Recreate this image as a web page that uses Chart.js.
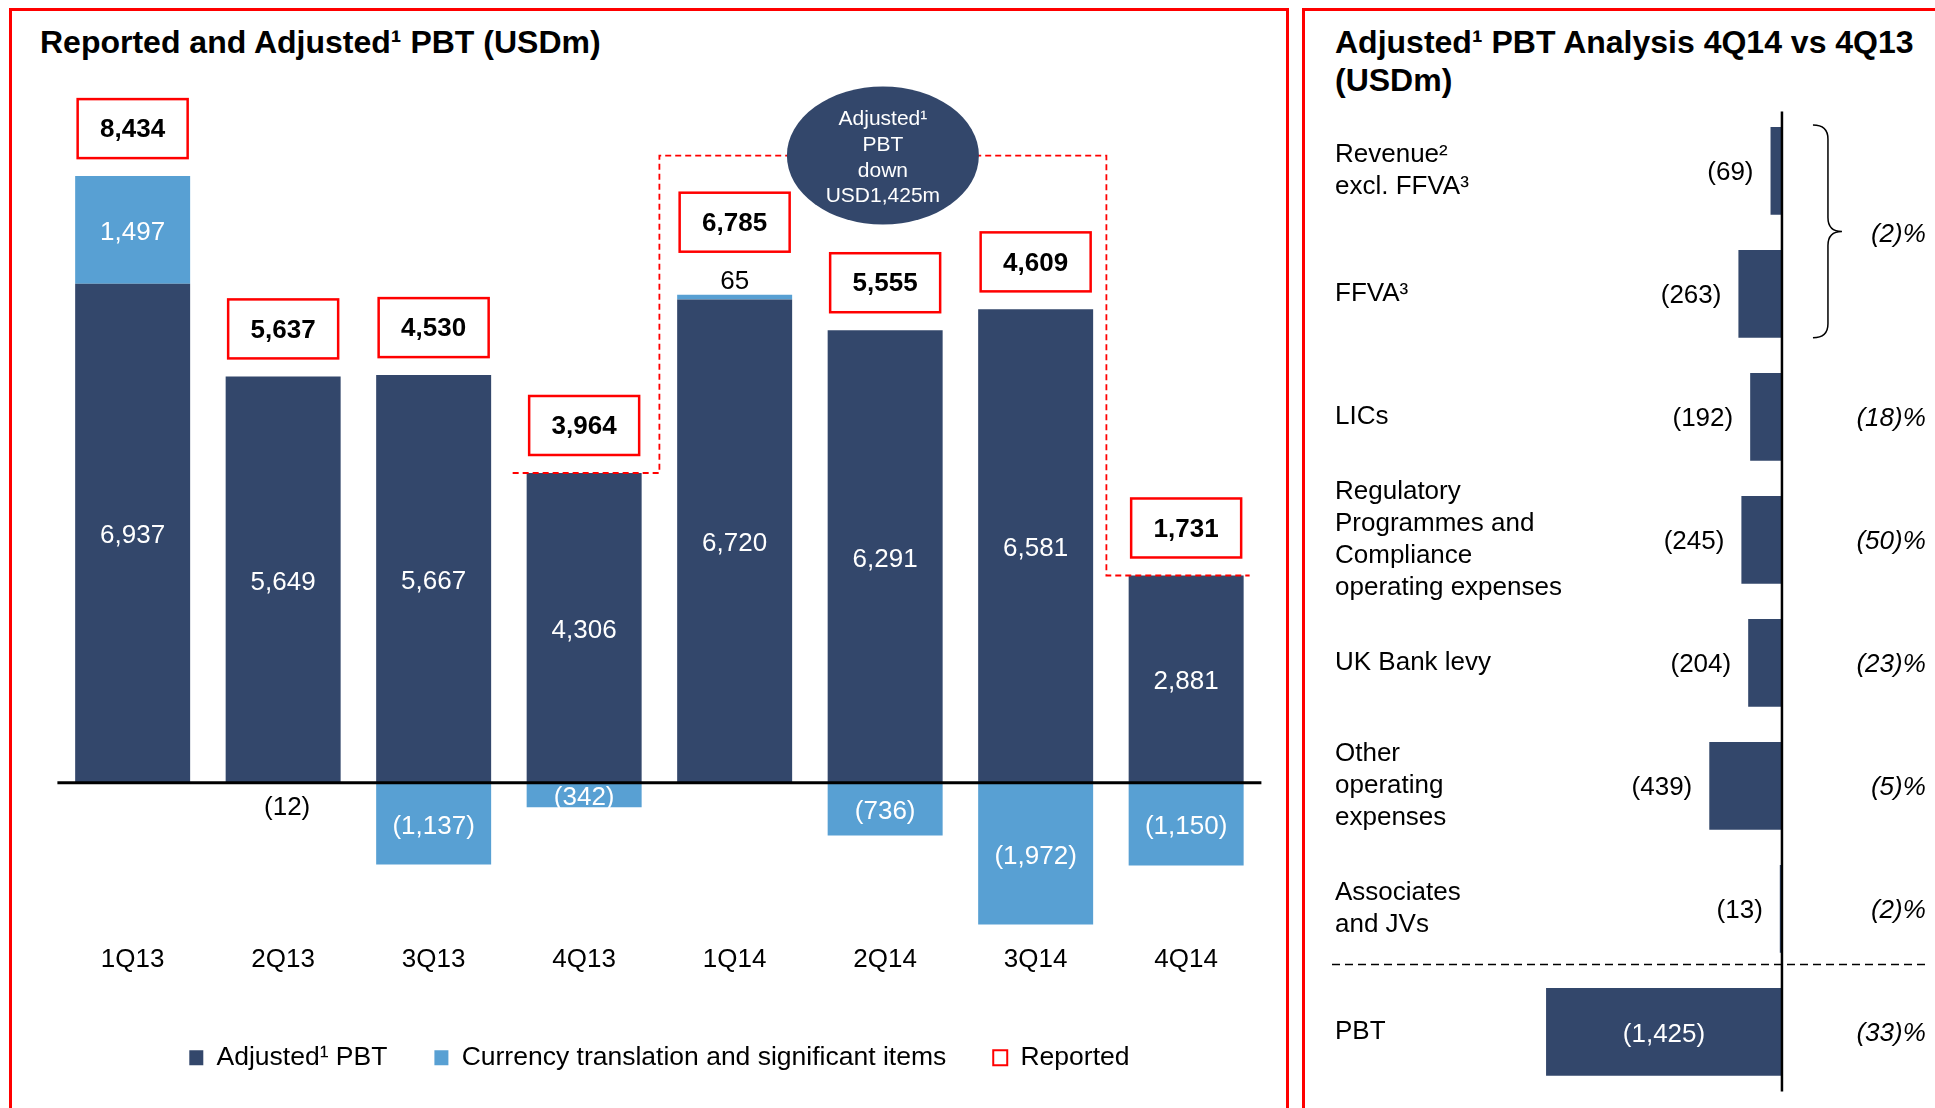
<!DOCTYPE html>
<html>
<head>
<meta charset="utf-8">
<title>Reported and Adjusted PBT</title>
<script src="https://cdn.jsdelivr.net/npm/chart.js@4.4.1/dist/chart.umd.min.js"></script>
<style>
  body {
    margin: 0;
    width: 1935px;
    height: 1108px;
    overflow: hidden;
    position: relative;
    background: #fff;
    font-family: "Liberation Sans", Arial, sans-serif;
  }
  .panel { position: absolute; border: 3px solid #ff0000; box-sizing: border-box; }
  #left-panel { left: 9px; top: 8px; width: 1280px; height: 1200px; }
  #right-panel { left: 1302px; top: 8px; width: 700px; height: 1200px; }
  .title { position: absolute; font-weight: bold; font-size: 32px; color: #000; white-space: nowrap; }
  #left-title { left: 40px; top: 26px; line-height: 32px; }
  #right-title { left: 1335px; top: 23px; line-height: 38px; }
  canvas { position: absolute; top: 0; }
  #pbt-chart { left: 0; }
  #analysis-chart { left: 1300px; }
</style>
</head>
<body>
<div class="panel" id="left-panel"></div>
<div class="panel" id="right-panel"></div>
<div class="title" id="left-title">Reported and Adjusted¹ PBT (USDm)</div>
<div class="title" id="right-title">Adjusted¹ PBT Analysis 4Q14 vs 4Q13<br>(USDm)</div>
<canvas id="pbt-chart" width="1300" height="1108"></canvas>
<canvas id="analysis-chart" width="635" height="1108"></canvas>
<script>
// left chart data
const quarters = ['1Q13', '2Q13', '3Q13', '4Q13', '1Q14', '2Q14', '3Q14', '4Q14'];
const adjustedPbt = [6937, 5649, 5667, 4306, 6720, 6291, 6581, 2881];
const currencyItems = [1497, -12, -1137, -342, 65, -736, -1972, -1150];
const reportedPbt = [8434, 5637, 4530, 3964, 6785, 5555, 4609, 1731];
const calloutLines = ['Adjusted¹', 'PBT', 'down', 'USD1,425m'];

// right chart data
const analysisCategories = [
  ['Revenue²', 'excl. FFVA³'],
  ['FFVA³'],
  ['LICs'],
  ['Regulatory', 'Programmes and', 'Compliance', 'operating expenses'],
  ['UK Bank levy'],
  ['Other', 'operating', 'expenses'],
  ['Associates', 'and JVs'],
  ['PBT']
];
const analysisValues = [-69, -263, -192, -245, -204, -439, -13, -1425];
const changePct = [null, null, -18, -50, -23, -5, -2, -33];
const revenuePct = -2; // shared by Revenue and FFVA (brace)

const DARK = '#33476B';
const LIGHT = '#58A0D3';
const RED = '#FF0000';
const FONT = '"Liberation Sans", Arial, sans-serif';

Chart.defaults.font.family = FONT;
Chart.defaults.color = '#000';

function fmt(v) {
  const s = Math.abs(v).toLocaleString('en-US');
  return v < 0 ? '(' + s + ')' : s;
}

function positiveTop(i) {
  return Math.max(adjustedPbt[i], 0) + Math.max(currencyItems[i], 0);
}

// numbers inside / next to the stacked segments
const segmentLabels = {
  id: 'segmentLabels',
  afterDatasetsDraw(chart) {
    const ctx = chart.ctx;
    ctx.save();
    ctx.font = '26px ' + FONT;
    ctx.textAlign = 'center';
    ctx.textBaseline = 'middle';
    chart.data.datasets.forEach((ds, di) => {
      chart.getDatasetMeta(di).data.forEach((bar, i) => {
        const v = ds.data[i];
        const { x, y, base } = bar.getProps(['x', 'y', 'base'], true);
        const h = Math.abs(base - y);
        if (h >= 18) {
          ctx.fillStyle = '#fff';
          ctx.fillText(fmt(v), x, (y + base) / 2 + 3);
        } else if (v >= 0) {
          ctx.fillStyle = '#000';
          ctx.fillText(fmt(v), x, Math.min(y, base) - 13);
        } else {
          ctx.fillStyle = '#000';
          ctx.fillText(fmt(v), x + 4, Math.max(y, base) + 24);
        }
      });
    });
    ctx.restore();
  }
};

// red boxes with the reported figure
const reportedBoxes = {
  id: 'reportedBoxes',
  afterDatasetsDraw(chart) {
    const { ctx, scales: { x, y } } = chart;
    const zero = y.getPixelForValue(0);
    ctx.save();
    ctx.font = 'bold 26px ' + FONT;
    ctx.textAlign = 'center';
    ctx.textBaseline = 'middle';
    quarters.forEach((q, i) => {
      const yTop = y.getPixelForValue(positiveTop(i));
      const smallAbove = currencyItems[i] > 0 && zero - y.getPixelForValue(currencyItems[i]) < 18;
      const bottom = yTop - (smallAbove ? 43 : 18);
      const cx = x.getPixelForValue(i);
      ctx.fillStyle = '#fff';
      ctx.fillRect(cx - 55, bottom - 59, 110, 59);
      ctx.strokeStyle = RED;
      ctx.lineWidth = 2.5;
      ctx.strokeRect(cx - 55, bottom - 59, 110, 59);
      ctx.fillStyle = '#000';
      ctx.fillText(fmt(reportedPbt[i]), cx, bottom - 28);
    });
    ctx.restore();
  }
};

// dashed red bracket 4Q13 -> 4Q14 with the callout ellipse
const bracketLevel = 8720;
const bracketCallout = {
  id: 'bracketCallout',
  afterDatasetsDraw(chart) {
    const { ctx, scales: { x, y } } = chart;
    const bars = chart.getDatasetMeta(0).data;
    const from = 3, to = 7;
    const yFrom = y.getPixelForValue(positiveTop(from));
    const yTo = y.getPixelForValue(positiveTop(to));
    const yTop = y.getPixelForValue(bracketLevel);
    const xL = x.getPixelForValue(from + 0.5);
    const xR = x.getPixelForValue(to - 0.53);
    const start = bars[from].x - bars[from].width / 2 - 14;
    const end = bars[to].x + bars[to].width / 2 + 6;
    ctx.save();
    ctx.strokeStyle = RED;
    ctx.lineWidth = 1.8;
    ctx.setLineDash([6, 4]);
    ctx.beginPath();
    ctx.moveTo(start, yFrom);
    ctx.lineTo(xL, yFrom);
    ctx.lineTo(xL, yTop);
    ctx.lineTo(xR, yTop);
    ctx.lineTo(xR, yTo);
    ctx.lineTo(end, yTo);
    ctx.stroke();
    ctx.setLineDash([]);

    const cx = (xL + xR) / 2;
    ctx.fillStyle = DARK;
    ctx.beginPath();
    ctx.ellipse(cx, yTop, 96, 69, 0, 0, Math.PI * 2);
    ctx.fill();
    ctx.fillStyle = '#fff';
    ctx.font = '21px ' + FONT;
    ctx.textAlign = 'center';
    ctx.textBaseline = 'middle';
    calloutLines.forEach((t, k) => ctx.fillText(t, cx, yTop + (k - 1.5) * 25.7 + 2.5));
    ctx.restore();
  }
};

const zeroLine = {
  id: 'zeroLine',
  afterDatasetsDraw(chart) {
    const { ctx, chartArea, scales: { y } } = chart;
    const y0 = y.getPixelForValue(0);
    ctx.save();
    ctx.strokeStyle = '#000';
    ctx.lineWidth = 3;
    ctx.beginPath();
    ctx.moveTo(chartArea.left, y0);
    ctx.lineTo(chartArea.right, y0);
    ctx.stroke();
    ctx.restore();
  }
};

const legendItems = [
  { text: 'Adjusted¹ PBT', fillStyle: DARK, strokeStyle: DARK, lineWidth: 0 },
  { text: 'Currency translation and significant items', fillStyle: LIGHT, strokeStyle: LIGHT, lineWidth: 0 },
  { text: 'Reported', fillStyle: '#fff', strokeStyle: RED, lineWidth: 2 }
];

new Chart(document.getElementById('pbt-chart'), {
  type: 'bar',
  data: {
    labels: quarters,
    datasets: [
      { label: 'Adjusted¹ PBT', data: adjustedPbt, backgroundColor: DARK, stack: 'pbt' },
      { label: 'Currency translation and significant items', data: currencyItems, backgroundColor: LIGHT, stack: 'pbt' }
    ]
  },
  options: {
    responsive: false,
    animation: false,
    events: [],
    layout: { padding: { left: 57.4, right: 38.6, top: 135.4, bottom: 27 } },
    datasets: { bar: { barPercentage: 0.764, categoryPercentage: 1, borderWidth: 0 } },
    scales: {
      x: {
        stacked: true,
        grid: { display: false, drawTicks: false },
        border: { display: false },
        ticks: { font: { size: 26 }, color: '#000', padding: 3.5 },
        afterFit: scale => { scale.height = 56.6; }
      },
      y: { stacked: true, display: false, min: -2200, max: 9000 }
    },
    plugins: {
      tooltip: { enabled: false },
      legend: {
        position: 'bottom',
        onClick: null,
        labels: {
          color: '#000',
          font: { size: 26.5 },
          boxWidth: 14,
          boxHeight: 15,
          padding: 47,
          generateLabels: () => legendItems.map(it => Object.assign({ hidden: false }, it))
        }
      }
    }
  },
  plugins: [bracketCallout, segmentLabels, reportedBoxes, zeroLine]
});

// right chart decorations: value labels, % change, brace, separator, axis
const analysisDecor = {
  id: 'analysisDecor',
  afterDatasetsDraw(chart) {
    const { ctx, chartArea, scales: { x } } = chart;
    const bars = chart.getDatasetMeta(0).data;
    const x0 = x.getPixelForValue(0);
    ctx.save();
    ctx.font = '26px ' + FONT;
    ctx.textBaseline = 'middle';
    bars.forEach((bar, i) => {
      const len = Math.abs(bar.x - bar.base);
      if (len > 150) {
        ctx.fillStyle = '#fff';
        ctx.textAlign = 'center';
        ctx.fillText(fmt(analysisValues[i]), (bar.x + bar.base) / 2, bar.y + 3);
      } else {
        ctx.fillStyle = '#000';
        ctx.textAlign = 'right';
        ctx.fillText(fmt(analysisValues[i]), Math.min(bar.x, bar.base) - 17, bar.y + 2);
      }
    });

    const pct = v => '(' + Math.abs(v) + ')%';
    ctx.font = 'italic 26px ' + FONT;
    ctx.fillStyle = '#000';
    ctx.textAlign = 'right';
    bars.forEach((bar, i) => {
      if (changePct[i] !== null) ctx.fillText(pct(changePct[i]), chartArea.right - 1, bar.y + 2);
    });

    // brace around revenue + FFVA
    const top = bars[0].y - bars[0].height / 2 - 2;
    const bottom = bars[1].y + bars[1].height / 2;
    const mid = (top + bottom) / 2;
    const bx = x0 + 31, mx = x0 + 46, tx = x0 + 60, r = 14;
    ctx.strokeStyle = '#000';
    ctx.lineWidth = 1.5;
    ctx.beginPath();
    ctx.moveTo(bx, top);
    ctx.quadraticCurveTo(mx, top, mx, top + r);
    ctx.lineTo(mx, mid - r);
    ctx.quadraticCurveTo(mx, mid, tx, mid);
    ctx.quadraticCurveTo(mx, mid, mx, mid + r);
    ctx.lineTo(mx, bottom - r);
    ctx.quadraticCurveTo(mx, bottom, bx, bottom);
    ctx.stroke();
    ctx.fillText(pct(revenuePct), chartArea.right - 1, mid + 3);

    // dashed separator above PBT
    const ySep = (bars[6].y + bars[7].y) / 2 - 6;
    ctx.setLineDash([8, 5]);
    ctx.beginPath();
    ctx.moveTo(chartArea.left - 3, ySep);
    ctx.lineTo(chartArea.right, ySep);
    ctx.stroke();
    ctx.setLineDash([]);

    // zero axis
    ctx.lineWidth = 2.5;
    ctx.beginPath();
    ctx.moveTo(x0, chartArea.top + 2);
    ctx.lineTo(x0, chartArea.bottom - 2);
    ctx.stroke();
    ctx.restore();
  }
};

new Chart(document.getElementById('analysis-chart'), {
  type: 'bar',
  data: {
    labels: analysisCategories,
    datasets: [{ label: 'Adjusted PBT change', data: analysisValues, backgroundColor: DARK }]
  },
  options: {
    indexAxis: 'y',
    responsive: false,
    animation: false,
    events: [],
    layout: { padding: { left: 35, right: 8.2, top: 109.4, bottom: 14.6 } },
    datasets: { bar: { barPercentage: 0.712, categoryPercentage: 1, borderWidth: 0 } },
    scales: {
      x: { display: false, min: -2700, max: 875 },
      y: {
        grid: { display: false, drawTicks: false },
        border: { display: false },
        ticks: { mirror: true, autoSkip: false, padding: 0, color: '#000', font: { size: 26, lineHeight: 1.23 } },
        afterFit: scale => { scale.paddingTop = 0; scale.paddingBottom = 0; }
      }
    },
    plugins: { tooltip: { enabled: false }, legend: { display: false } }
  },
  plugins: [analysisDecor]
});
</script>
</body>
</html>
